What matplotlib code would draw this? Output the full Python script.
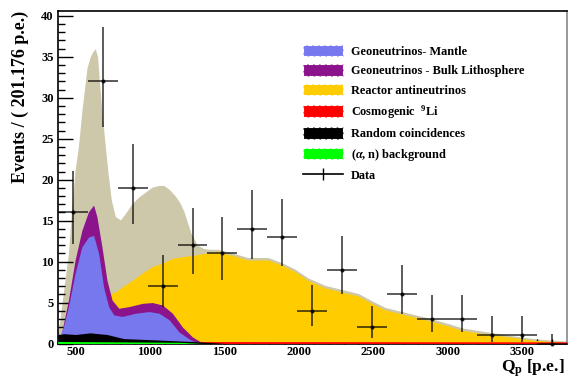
import matplotlib
matplotlib.use("Agg")
import matplotlib.pyplot as plt
from matplotlib.patches import Patch
from matplotlib.lines import Line2D
from matplotlib.ticker import MultipleLocator

plt.rcParams["font.family"] = ["Liberation Serif", "DejaVu Serif"]
plt.rcParams["font.weight"] = "bold"
plt.rcParams["mathtext.fontset"] = "custom"
plt.rcParams["mathtext.rm"] = "Liberation Serif:bold"
plt.rcParams["mathtext.bf"] = "Liberation Serif:bold"
plt.rcParams["mathtext.it"] = "Liberation Serif:italic"

# data points (counts per 201.176 p.e. bin) and asymmetric Poisson bounds
bin_width = 201.176
x_start = 380.0
counts = [16, 32, 19, 7, 12, 11, 14, 13, 4, 9, 2, 6, 3, 3, 1, 1, 0]
err_low = [3.9, 5.6, 4.4, 2.6, 3.5, 3.3, 3.7, 3.5, 1.9, 2.9, 1.3, 2.4, 1.6, 1.6, 0.8, 0.8, 0.0]
err_high = [5.1, 6.7, 5.4, 3.8, 4.6, 4.4, 4.8, 4.7, 3.2, 4.1, 2.6, 3.6, 2.9, 2.9, 2.3, 2.3, 1.15]

# fitted components (cumulative tops as drawn)
total_x = [380, 395, 420, 452, 475, 497, 519, 542, 576, 598, 615, 632, 648, 660, 677, 700, 720,
           740, 767, 801, 835, 880, 925, 970, 1015, 1060, 1093, 1130, 1170, 1200, 1228, 1274,
           1319, 1360, 1400, 1454, 1544, 1657, 1792, 1882, 1972, 2062, 2175, 2287, 2400, 2490,
           2580, 2760, 2895, 3008, 3098, 3233, 3414, 3571, 3706, 3800]
total_y = [1.5, 2.9, 6.5, 11.0, 16.7, 21.2, 24.0, 28.3, 33.6, 35.0, 35.6, 36.0, 35.0, 32.0, 28.3,
           24.0, 20.5, 17.5, 15.5, 15.1, 15.9, 17.1, 17.9, 18.5, 19.1, 19.3, 19.3, 18.8, 18.0,
           17.2, 16.1, 13.5, 12.0, 11.6, 11.5, 11.5, 11.1, 10.5, 10.5, 9.9, 9.1, 8.0, 7.1, 6.6,
           6.1, 5.2, 4.4, 3.6, 3.0, 2.4, 1.9, 1.5, 1.0, 0.6, 0.4, 0.3]

reactor_x = [380, 500, 600, 700, 745, 767, 812, 880, 948, 1015, 1083, 1150, 1218, 1300, 1360,
             1454, 1544, 1657, 1792, 1882, 1972, 2062, 2175, 2287, 2400, 2490, 2580, 2760, 2895,
             3008, 3098, 3233, 3414, 3571, 3706, 3800]
reactor_y = [0.5, 2.0, 3.5, 5.0, 6.2, 6.3, 6.9, 7.7, 8.6, 9.4, 9.8, 10.4, 10.6, 10.8, 11.0, 11.2,
             10.8, 10.2, 10.2, 9.6, 8.8, 7.7, 6.8, 6.3, 5.8, 4.9, 4.1, 3.3, 2.7, 2.1, 1.6, 1.2,
             0.8, 0.4, 0.25, 0.15]

bulk_x = [380, 407, 452, 497, 542, 587, 621, 643, 677, 711, 745, 790, 857, 948, 1015, 1083,
          1150, 1218, 1285, 1330, 1360]
bulk_y = [0.5, 1.4, 5.3, 10.2, 13.8, 16.1, 16.9, 15.5, 11.8, 7.7, 5.3, 4.3, 4.5, 4.9, 5.0, 4.7,
          3.7, 2.0, 0.8, 0.3, 0.0]

mantle_x = [380, 418, 452, 497, 542, 587, 621, 655, 688, 722, 756, 812, 903, 993, 1060, 1128,
            1195, 1263, 1300, 1330]
mantle_y = [0.3, 2.0, 4.5, 8.6, 11.8, 13.0, 13.2, 11.0, 6.9, 4.5, 3.5, 3.3, 3.7, 3.9, 3.7, 2.9,
            1.4, 0.55, 0.2, 0.0]

random_x = [380, 418, 500, 598, 650, 711, 823, 1049, 1274, 1431, 1500]
random_y = [1.0, 1.2, 1.1, 1.3, 1.2, 1.1, 0.6, 0.43, 0.25, 0.1, 0.0]

alphan_x = [380, 800, 1200, 1350]
alphan_y = [0.25, 0.2, 0.15, 0.0]

li9_x = [380, 3800]
li9_y = [0.25, 0.2]

labels = ["Geoneutrinos- Mantle", "Geoneutrinos - Bulk Lithosphere", "Reactor antineutrinos",
          "Cosmogenic  $^{9}$Li", "Random coincidences", "($\\alpha$, n) background", "Data"]

C_TOTAL = "#cdc8aa"
C_MANTLE = "#7777ee"
C_BULK = "#8b138b"
C_REACTOR = "#ffcc00"
C_LI9 = "#ff0000"
C_RANDOM = "#000000"
C_ALPHAN = "#00ff00"

fig = plt.figure(figsize=(5.72, 3.80), dpi=100)
ax = fig.add_axes([57.7 / 572, 1 - 343.5 / 380, (567 - 57.7) / 572, (343.5 - 11) / 380])

ax.fill_between(total_x, total_y, color=C_TOTAL, lw=0, zorder=1)
ax.fill_between(reactor_x, reactor_y, color=C_REACTOR, lw=0, zorder=2)
ax.fill_between(li9_x, li9_y, color=C_LI9, lw=0, zorder=3)
ax.fill_between(bulk_x, bulk_y, color=C_BULK, lw=0, zorder=4)
ax.fill_between(mantle_x, mantle_y, color=C_MANTLE, lw=0, zorder=5)
ax.fill_between(random_x, random_y, color=C_RANDOM, lw=0, zorder=6)
ax.fill_between(alphan_x, alphan_y, color=C_ALPHAN, lw=0, zorder=7)

centers = [x_start + bin_width * (i + 0.5) for i in range(len(counts))]
ax.errorbar(centers, counts, yerr=[err_low, err_high], xerr=bin_width / 2, fmt="o", ms=2,
            color="black", ecolor="black", elinewidth=1.2, capsize=0, alpha=0.75, zorder=10,
            clip_on=False)

ax.set_xlim(x_start, x_start + bin_width * len(counts))
ax.set_ylim(0, 40.6)

ax.xaxis.set_major_locator(MultipleLocator(500))
ax.xaxis.set_minor_locator(MultipleLocator(100))
ax.yaxis.set_major_locator(MultipleLocator(5))
ax.yaxis.set_minor_locator(MultipleLocator(1))
ax.tick_params(axis="x", which="major", direction="in", length=6.5, width=1, labelsize=9, pad=2,
               top=False)
ax.tick_params(axis="x", which="minor", direction="in", length=3.5, width=1, top=False)
ax.tick_params(axis="y", which="major", direction="in", length=10.5, width=1, labelsize=9, pad=3,
               right=False)
ax.tick_params(axis="y", which="minor", direction="in", length=5, width=1, right=False)
for lab in ax.get_xticklabels() + ax.get_yticklabels():
    lab.set_fontweight("bold")
for s in ("left", "bottom", "top"):
    ax.spines[s].set_linewidth(1.2)
ax.spines["right"].set_color("#888888")
ax.spines["right"].set_linewidth(1.2)

fig.text(20 / 572, 1 - 97 / 380, "Events / ( 201.176 p.e.)", rotation=90, ha="center",
         va="center", fontsize=13, fontweight="bold")
fig.text(565 / 572, 1 - 372 / 380, "$\\mathbf{Q_{p}}$ [p.e.]", ha="right", va="baseline",
         fontsize=12.5, fontweight="bold")

handles = [Patch(facecolor=c, edgecolor="white", linestyle="--", linewidth=0.8)
           for c in (C_MANTLE, C_BULK, C_REACTOR, C_LI9, C_RANDOM, C_ALPHAN)]
handles.append(Line2D([], [], color="black", marker="|", markersize=9, lw=1.2))
fig.legend(handles, labels, loc="upper left", bbox_to_anchor=(303 / 572, 1 - 45 / 380),
           frameon=False, prop={"family": "Liberation Serif", "weight": "bold", "size": 8.8},
           handlelength=3.3, handleheight=1.07, handletextpad=0.65, labelspacing=0.53,
           borderpad=0, borderaxespad=0)

fig.savefig("out.png", dpi=100)
